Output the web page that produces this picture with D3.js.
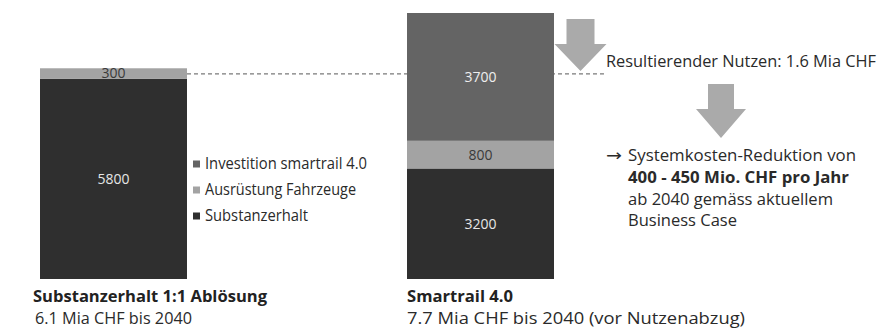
<!DOCTYPE html>
<html><head><meta charset="utf-8">
<script src="https://cdn.jsdelivr.net/npm/d3@7"></script>
<style>html,body{margin:0;padding:0;background:#fff;}svg{display:block;}</style>
</head><body>
<svg id="chart" width="880" height="329"></svg>
<script>
// ---- data ----
const categories = ["Substanzerhalt 1:1 Ablösung", "Smartrail 4.0"];
const subtitles = ["6.1 Mia CHF bis 2040", "7.7 Mia CHF bis 2040 (vor Nutzenabzug)"];
const seriesNames = ["Investition smartrail 4.0", "Ausrüstung Fahrzeuge", "Substanzerhalt"];
const substanzerhalt = [5800, 3200];
const ausruestung = [300, 800];
const investition = [0, 3700];
const benefitText = "Resultierender Nutzen: 1.6 Mia CHF";
const noteLines = ["Systemkosten-Reduktion von", "400 - 450 Mio. CHF pro Jahr", "ab 2040 gemäss aktuellem", "Business Case"];

const FONT = "'Source Sans Pro', 'Open Sans', 'Noto Sans', sans-serif";
const colors = {"Substanzerhalt": "#2f2f2f", "Ausrüstung Fahrzeuge": "#a3a3a3", "Investition smartrail 4.0": "#646464"};
const labelColors = {"Substanzerhalt": "#e6e6e6", "Ausrüstung Fahrzeuge": "#3a3a3a", "Investition smartrail 4.0": "#eeeeee"};

const svg = d3.select("#chart");

const rows = categories.map((c, i) => ({
  cat: c,
  "Substanzerhalt": substanzerhalt[i],
  "Ausrüstung Fahrzeuge": ausruestung[i],
  "Investition smartrail 4.0": investition[i]
}));
const keys = ["Substanzerhalt", "Ausrüstung Fahrzeuge", "Investition smartrail 4.0"];
const stacked = d3.stack().keys(keys)(rows);

const x = d3.scaleBand().domain(categories).range([40, 554]).paddingInner(0.5995).paddingOuter(0);
const totalMax = d3.max(rows, r => keys.reduce((s, k) => s + r[k], 0));
const y = d3.scaleLinear().domain([0, totalMax]).range([279, 13]);

// text with font size and squeezed to target width (narrow humanist look)
function txt(parent, str, px, py, size, target, weight) {
  const t = parent.append("text").attr("x", px).attr("y", py).attr("fill", "#2a2a2a")
    .style("font-family", FONT).style("font-size", size + "px")
    .style("font-weight", weight || "normal").text(str);
  if (target) {
    t.attr("textLength", target).attr("lengthAdjust", "spacingAndGlyphs");
  }
  return t;
}

// dashed reference line at total of first bar (drawn behind bars)
const leftTotal = keys.reduce((s, k) => s + rows[0][k], 0);
const dashY = (y(leftTotal) + y(leftTotal - ausruestung[0])) / 2 + 0.5;
svg.append("line")
  .attr("x1", x(categories[0]) + x.bandwidth()).attr("x2", 607)
  .attr("y1", dashY).attr("y2", dashY)
  .attr("stroke", "#7a7a7a").attr("stroke-width", 1.2).attr("stroke-dasharray", "4,3");

// bars
const g = svg.append("g");
stacked.forEach(layer => {
  g.selectAll(null).data(layer.filter(d => d[1] - d[0] > 0)).enter().append("rect")
    .attr("x", d => x(d.data.cat))
    .attr("width", x.bandwidth())
    .attr("y", d => y(d[1]))
    .attr("height", d => y(d[0]) - y(d[1]))
    .attr("fill", colors[layer.key]);
});
// segment labels
stacked.forEach(layer => {
  g.selectAll(null).data(layer.filter(d => d[1] - d[0] > 0)).enter().append("text")
    .attr("x", d => x(d.data.cat) + x.bandwidth() / 2)
    .attr("y", d => (y(d[0]) + y(d[1])) / 2)
    .attr("dy", "0.36em")
    .attr("text-anchor", "middle")
    .style("font-family", FONT).style("font-size", "14px")
    .attr("fill", labelColors[layer.key])
    .text(d => d[1] - d[0]);
});

// legend
const legendY = [169, 195, 221];
const legendW = [162, 151, 103];
const lg = svg.append("g");
seriesNames.forEach((n, i) => {
  lg.append("rect").attr("x", 193).attr("y", legendY[i] - 8.5).attr("width", 7).attr("height", 7).attr("fill", colors[n]);
  txt(lg, n, 205, legendY[i], 16, legendW[i]);
});

// category labels
const catX = [33, 407];
const catW = [234, 106];
const subX = [35, 407];
const subW = [157, 338];
categories.forEach((c, i) => {
  txt(svg, c, catX[i], 301.5, 15.5, catW[i], "bold").attr("fill", "#222");
  txt(svg, subtitles[i], subX[i], 323.5, 15.5, subW[i]);
});

// arrows
function downArrow(cx, top, shaftHalf, headTop, headHalf, tip) {
  return `M${cx - shaftHalf},${top} L${cx + shaftHalf},${top} L${cx + shaftHalf},${headTop} L${cx + headHalf},${headTop} L${cx},${tip} L${cx - headHalf},${headTop} L${cx - shaftHalf},${headTop} Z`;
}
svg.append("path").attr("d", downArrow(580.5, 19, 14, 44, 26, 71)).attr("fill", "#aaaaaa");
svg.append("path").attr("d", downArrow(721, 84, 13, 109, 25, 138)).attr("fill", "#aaaaaa");

// benefit text
txt(svg, benefitText, 606, 66.5, 16.5, 270);

// note
svg.append("text").attr("x", 606).attr("y", 160.5).attr("fill", "#2a2a2a")
  .style("font-family", "'DejaVu Sans', sans-serif").style("font-size", "16px")
  .attr("textLength", 16).attr("lengthAdjust", "spacingAndGlyphs").text("→");
const noteY = [161, 183, 204.5, 226];
const noteW = [228, 221, 205, 109];
noteLines.forEach((l, i) => {
  txt(svg, l, 628, noteY[i], 16.5, noteW[i], i === 1 ? "bold" : "normal");
});
</script>
</body></html>
